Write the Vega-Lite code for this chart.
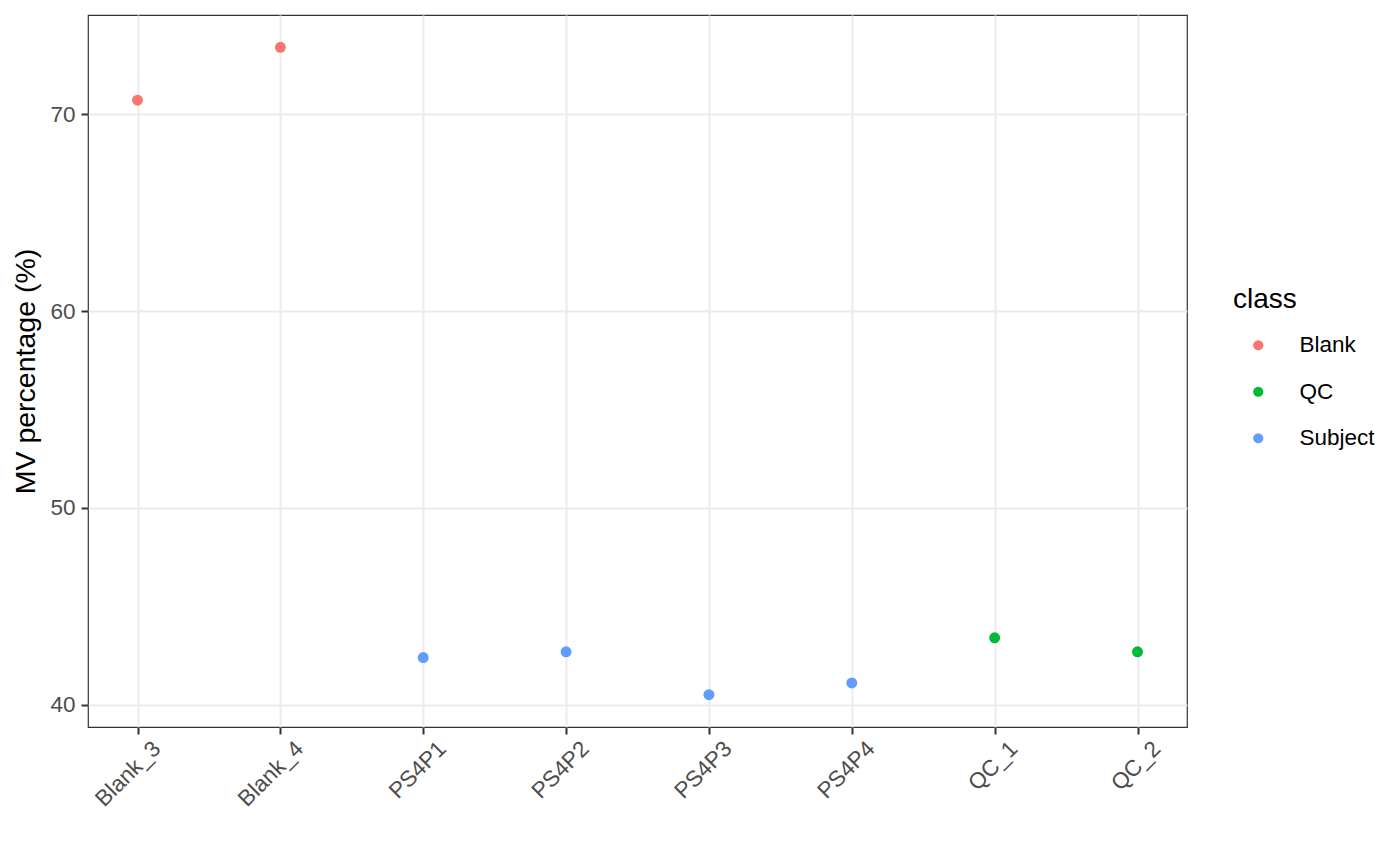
{
  "$schema": "https://vega.github.io/schema/vega-lite/v6.json",
  "width": 1099,
  "height": 712,
  "autosize": {"type": "none"},
  "padding": {"left": 88, "top": 15, "right": 213, "bottom": 139},
  "background": "white",
  "config": {
    "font": "Liberation Sans",
    "view": {"stroke": "#333333", "strokeWidth": 1.2},
    "axis": {
      "domain": false,
      "grid": true,
      "gridColor": "#EBEBEB",
      "gridWidth": 2,
      "tickColor": "#333333",
      "tickWidth": 2,
      "tickSize": 7,
      "labelColor": "#4D4D4D",
      "labelFontSize": 22.5,
      "labelFont": "Liberation Sans",
      "titleFont": "Liberation Sans",
      "titleFontWeight": "normal",
      "titleColor": "black",
      "titleFontSize": 28.5
    }
  },
  "data": {
    "values": [
      {"sample": "Blank_3", "mv": 70.71, "class": "Blank"},
      {"sample": "Blank_4", "mv": 73.40, "class": "Blank"},
      {"sample": "PS4P1", "mv": 42.40, "class": "Subject"},
      {"sample": "PS4P2", "mv": 42.69, "class": "Subject"},
      {"sample": "PS4P3", "mv": 40.51, "class": "Subject"},
      {"sample": "PS4P4", "mv": 41.11, "class": "Subject"},
      {"sample": "QC_1", "mv": 43.40, "class": "QC"},
      {"sample": "QC_2", "mv": 42.69, "class": "QC"}
    ]
  },
  "mark": {"type": "point", "filled": true, "opacity": 1, "size": 120},
  "encoding": {
    "x": {
      "field": "sample",
      "type": "nominal",
      "scale": {"type": "point", "padding": 0.3465},
      "axis": {
        "title": null,
        "labelAngle": -45,
        "labelAlign": "right",
        "labelBaseline": "top",
        "labelPadding": 3,
        "labelOffset": 11
      }
    },
    "y": {
      "field": "mv",
      "type": "quantitative",
      "scale": {"domain": [38.87, 75.04], "nice": false, "zero": false},
      "axis": {
        "title": "MV percentage (%)",
        "values": [40, 50, 60, 70],
        "labelPadding": 6,
        "titlePadding": 9
      }
    },
    "color": {
      "field": "class",
      "type": "nominal",
      "scale": {"domain": ["Blank", "QC", "Subject"], "range": ["#F8766D", "#00BA38", "#619CFF"]},
      "legend": {
        "title": "class",
        "orient": "none",
        "legendX": 1145,
        "legendY": 271,
        "padding": 0,
        "titleFontSize": 28,
        "titleFontWeight": "normal",
        "titleColor": "black",
        "titlePadding": 20,
        "labelFontSize": 22.5,
        "labelColor": "black",
        "symbolType": "circle",
        "symbolSize": 105,
        "symbolOffset": 14,
        "labelOffset": 30,
        "rowPadding": 23.5
      }
    }
  }
}
